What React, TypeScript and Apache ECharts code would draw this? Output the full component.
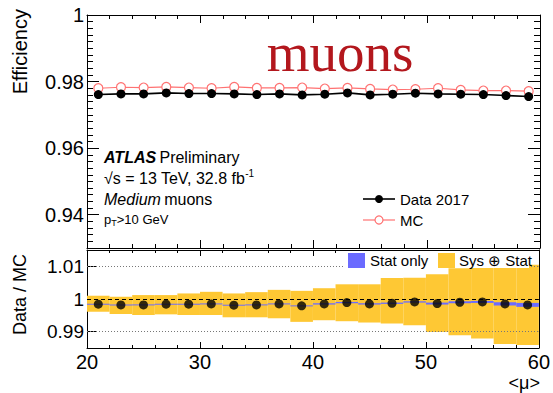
import { useEffect, useRef } from 'react';
import * as echarts from 'echarts';

// ---- data ----
const binEdges = [20, 22, 24, 26, 28, 30, 32, 34, 36, 38, 40, 42, 44, 46, 48, 50, 52, 54, 56, 58, 60];
const muCenters = [21, 23, 25, 27, 29, 31, 33, 35, 37, 39, 41, 43, 45, 47, 49, 51, 53, 55, 57, 59];
const dataEff = [0.9761, 0.9763, 0.9763, 0.9766, 0.9764, 0.9764, 0.9763, 0.9761, 0.9763, 0.976, 0.9762, 0.9766, 0.976, 0.9762, 0.9765, 0.9763, 0.9762, 0.9761, 0.9758, 0.9755];
const mcEff = [0.978, 0.9783, 0.9782, 0.9784, 0.9782, 0.978, 0.9784, 0.9781, 0.9781, 0.9782, 0.9779, 0.9781, 0.9778, 0.9776, 0.9777, 0.978, 0.9775, 0.9773, 0.9773, 0.9771];
const ratio = [0.9984, 0.9982, 0.9982, 0.9984, 0.9984, 0.9985, 0.9981, 0.9982, 0.9985, 0.9979, 0.9985, 0.9989, 0.9985, 0.9987, 0.9991, 0.9986, 0.999, 0.9991, 0.9985, 0.9982];
const statErr = [0.00015, 0.00015, 0.00015, 0.00015, 0.00015, 0.00015, 0.00015, 0.00015, 0.00015, 0.00015, 0.0002, 0.0002, 0.0002, 0.0002, 0.0002, 0.0003, 0.0003, 0.0003, 0.0005, 0.0006];
const sysLow = [0.9961, 0.9954, 0.9951, 0.9953, 0.9951, 0.9951, 0.9944, 0.9944, 0.9941, 0.993, 0.9935, 0.9932, 0.9928, 0.9925, 0.992, 0.9899, 0.9889, 0.9879, 0.9862, 0.9859];
const sysHigh = [1.001, 1.0007, 1.0012, 1.0012, 1.0017, 1.0022, 1.0017, 1.0021, 1.0028, 1.0025, 1.0033, 1.0045, 1.0045, 1.0064, 1.0065, 1.0076, 1.0094, 1.0103, 1.0108, 1.0105];
const yTopTicks = [0.94, 0.96, 0.98, 1];
const yBottomTicks = [0.99, 1, 1.01];
const xTicks = [20, 30, 40, 50, 60];

const FONT = 'Liberation Sans, Arial, Helvetica, sans-serif';
const YELLOW = '#fec834';
const BLUE = '#6b6bff';
const MCRED = '#ff7272';

export default function App() {
  const ref = useRef<HTMLDivElement>(null);

  useEffect(() => {
    document.body.style.margin = '0';
    if (!ref.current) return;
    const chart = echarts.init(ref.current, undefined, { renderer: 'svg' });

    const bandData = (lo: number[], hi: number[]) =>
      lo.map((l, i) => [binEdges[i], binEdges[i + 1], l, hi[i]]);
    const statLo = ratio.map((r, i) => r - statErr[i]);
    const statHi = ratio.map((r, i) => r + statErr[i]);

    const rectRender = (color: string) => (params: any, api: any) => {
      const p0 = api.coord([api.value(0), api.value(3)]);
      const p1 = api.coord([api.value(1), api.value(2)]);
      return {
        type: 'rect',
        shape: { x: p0[0], y: p0[1], width: p1[0] - p0[0], height: Math.max(p1[1] - p0[1], 1) },
        style: { fill: color },
      };
    };

    const axisLine = { show: true, lineStyle: { color: '#000', width: 1 } };
    const mkX = (grid: number, pos: string, labels: boolean, major: number, minor: number) => ({
      type: 'value',
      gridIndex: grid,
      position: pos,
      min: xTicks[0],
      max: xTicks[xTicks.length - 1],
      interval: 10,
      axisLine,
      axisTick: { show: true, inside: true, length: major, lineStyle: { color: '#000' } },
      minorTick: { show: true, splitNumber: 5, length: minor, lineStyle: { color: '#000' } },
      splitLine: { show: false },
      axisLabel: labels
        ? { show: true, fontSize: 20, color: '#000', fontFamily: FONT, margin: 4 }
        : { show: false },
    });

    const fmt = (v: number) => String(Number(v.toFixed(3)));

    const option: any = {
      animation: false,
      backgroundColor: '#fff',
      grid: [
        { left: 87, right: 13, top: 15, height: 233 },
        { left: 87, right: 13, top: 250, height: 98 },
      ],
      xAxis: [mkX(0, 'bottom', false, 8, 4), mkX(0, 'top', false, 8, 4), mkX(1, 'bottom', true, 6, 3), mkX(1, 'top', false, 6, 3)],
      yAxis: [
        {
          type: 'value', gridIndex: 0, position: 'left', min: 0.93, max: 1,
          axisLine,
          axisTick: { show: true, inside: true, length: 12, customValues: yTopTicks, lineStyle: { color: '#000' } },
          axisLabel: { show: true, customValues: yTopTicks, formatter: fmt, fontSize: 20, color: '#000', fontFamily: FONT, margin: 3 },
          splitLine: { show: false },
        },
        {
          type: 'value', gridIndex: 0, position: 'left', min: 0.93, max: 1, interval: 0.002,
          axisLine: { show: false },
          axisTick: { show: true, inside: true, length: 6, lineStyle: { color: '#000' } },
          axisLabel: { show: false }, splitLine: { show: false },
        },
        {
          type: 'value', gridIndex: 0, position: 'right', min: 0.93, max: 1,
          axisLine,
          axisTick: { show: true, inside: true, length: 12, customValues: yTopTicks, lineStyle: { color: '#000' } },
          axisLabel: { show: false }, splitLine: { show: false },
        },
        {
          type: 'value', gridIndex: 0, position: 'right', min: 0.93, max: 1, interval: 0.002,
          axisLine: { show: false },
          axisTick: { show: true, inside: true, length: 6, lineStyle: { color: '#000' } },
          axisLabel: { show: false }, splitLine: { show: false },
        },
        {
          type: 'value', gridIndex: 1, position: 'left', min: 0.985, max: 1.015,
          axisLine,
          axisTick: { show: true, inside: true, length: 10, customValues: yBottomTicks, lineStyle: { color: '#000' } },
          axisLabel: { show: true, customValues: yBottomTicks, formatter: fmt, fontSize: 19, color: '#000', fontFamily: FONT, margin: 3 },
          splitLine: { show: false },
        },
        {
          type: 'value', gridIndex: 1, position: 'right', min: 0.985, max: 1.015,
          axisLine,
          axisTick: { show: true, inside: true, length: 10, customValues: yBottomTicks, lineStyle: { color: '#000' } },
          axisLabel: { show: false }, splitLine: { show: false },
        },
      ],
      series: [
        {
          name: 'MC', type: 'line', xAxisIndex: 0, yAxisIndex: 0,
          data: muCenters.map((m, i) => [m, mcEff[i]]),
          lineStyle: { color: MCRED, width: 1.2 },
          symbol: 'circle', symbolSize: 9,
          itemStyle: { color: '#fff', borderColor: MCRED, borderWidth: 1.2 },
          z: 3,
        },
        {
          name: 'Data 2017', type: 'line', xAxisIndex: 0, yAxisIndex: 0,
          data: muCenters.map((m, i) => [m, dataEff[i]]),
          lineStyle: { color: '#000', width: 1.6 },
          symbol: 'circle', symbolSize: 9,
          itemStyle: { color: '#000' },
          z: 4,
        },
        {
          name: 'Sys', type: 'custom', xAxisIndex: 2, yAxisIndex: 4,
          data: bandData(sysLow, sysHigh),
          encode: { x: [0, 1], y: [2, 3] },
          renderItem: rectRender(YELLOW),
          z: 2,
        },
        {
          name: 'Stat', type: 'custom', xAxisIndex: 2, yAxisIndex: 4,
          data: bandData(statLo, statHi),
          encode: { x: [0, 1], y: [2, 3] },
          renderItem: rectRender(BLUE),
          z: 3,
        },
        {
          name: 'Ratio', type: 'scatter', xAxisIndex: 2, yAxisIndex: 4,
          data: muCenters.map((m, i) => [m, ratio[i]]),
          symbol: 'circle', symbolSize: 9,
          itemStyle: { color: '#000' },
          z: 5,
          markLine: {
            silent: true, symbol: 'none', label: { show: false },
            data: yBottomTicks.map((v) => ({
              yAxis: v,
              lineStyle: v === 1
                ? { type: [4, 3], color: '#000', width: 1 }
                : { type: [1, 2], color: '#777', width: 1 },
            })),
          },
        },
      ],
      graphic: [
        {
          type: 'text', x: 340, y: 52, z: 100,
          style: { text: 'muons', fontFamily: 'Liberation Serif, Times New Roman, serif', fontSize: 55, fill: '#b3171d', align: 'center', verticalAlign: 'middle' },
        },
        {
          type: 'text', x: 20, y: 9, rotation: Math.PI / 2, z: 100,
          style: { text: 'Efficiency', fontFamily: FONT, fontSize: 20, fill: '#000', align: 'right', verticalAlign: 'middle' },
        },
        {
          type: 'text', x: 20, y: 254, rotation: Math.PI / 2, z: 100,
          style: { text: 'Data / MC', fontFamily: FONT, fontSize: 18, fill: '#000', align: 'right', verticalAlign: 'middle' },
        },
        {
          type: 'text', x: 540, y: 383, z: 100,
          style: { text: '<μ>', fontFamily: FONT, fontSize: 18, fill: '#000', align: 'right', verticalAlign: 'middle' },
        },
        {
          type: 'text', x: 104, y: 157, z: 100,
          style: {
            text: '{a|ATLAS} {b|Preliminary}', verticalAlign: 'middle',
            rich: {
              a: { fontFamily: FONT, fontSize: 16, fontWeight: 'bold', fontStyle: 'italic', fill: '#000' },
              b: { fontFamily: FONT, fontSize: 16, fill: '#000' },
            },
          },
        },
        {
          type: 'text', x: 104, y: 178, z: 100,
          style: {
            text: '{a|√s = 13 TeV, 32.8 fb}{s|-1}', verticalAlign: 'middle',
            rich: {
              a: { fontFamily: FONT, fontSize: 16, fill: '#000' },
              s: { fontFamily: FONT, fontSize: 10, fill: '#000', padding: [0, 0, 10, 0] },
            },
          },
        },
        {
          type: 'text', x: 104, y: 199, z: 100,
          style: {
            text: '{a|Medium} {b|muons}', verticalAlign: 'middle',
            rich: {
              a: { fontFamily: FONT, fontSize: 16, fontStyle: 'italic', fill: '#000' },
              b: { fontFamily: FONT, fontSize: 16, fill: '#000' },
            },
          },
        },
        {
          type: 'text', x: 104, y: 219, z: 100,
          style: {
            text: '{a|p}{s|T}{a|>10 GeV}', verticalAlign: 'middle',
            rich: {
              a: { fontFamily: FONT, fontSize: 13, fill: '#000' },
              s: { fontFamily: FONT, fontSize: 9, fill: '#000', padding: [8, 0, 0, 0] },
            },
          },
        },
        // top legend
        { type: 'line', z: 100, shape: { x1: 363, y1: 199, x2: 395, y2: 199 }, style: { stroke: '#000', lineWidth: 1.6 } },
        { type: 'circle', z: 101, shape: { cx: 379, cy: 199, r: 4 }, style: { fill: '#000' } },
        { type: 'text', x: 400, y: 199, z: 100, style: { text: 'Data 2017', fontFamily: FONT, fontSize: 15, fill: '#000', verticalAlign: 'middle' } },
        { type: 'line', z: 100, shape: { x1: 363, y1: 220, x2: 395, y2: 220 }, style: { stroke: MCRED, lineWidth: 1.2 } },
        { type: 'circle', z: 101, shape: { cx: 379, cy: 220, r: 4 }, style: { fill: '#fff', stroke: MCRED, lineWidth: 1.2 } },
        { type: 'text', x: 400, y: 220, z: 100, style: { text: 'MC', fontFamily: FONT, fontSize: 15, fill: '#000', verticalAlign: 'middle' } },
        // bottom legend
        { type: 'rect', z: 100, shape: { x: 343, y: 251, width: 186, height: 17 }, style: { fill: '#fff' } },
        { type: 'rect', z: 101, shape: { x: 348, y: 253, width: 17, height: 15 }, style: { fill: BLUE } },
        { type: 'text', x: 370, y: 260.5, z: 101, style: { text: 'Stat only', fontFamily: FONT, fontSize: 15, fill: '#000', verticalAlign: 'middle' } },
        { type: 'rect', z: 101, shape: { x: 438, y: 253, width: 17, height: 15 }, style: { fill: YELLOW } },
        { type: 'text', x: 459, y: 260.5, z: 101, style: { text: 'Sys ⊕ Stat', fontFamily: FONT, fontSize: 15, fill: '#000', verticalAlign: 'middle' } },
      ],
    };

    chart.setOption(option);
    return () => chart.dispose();
  }, []);

  return <div ref={ref} style={{ position: 'fixed', left: 0, top: 0, width: 553, height: 393 }} />;
}
